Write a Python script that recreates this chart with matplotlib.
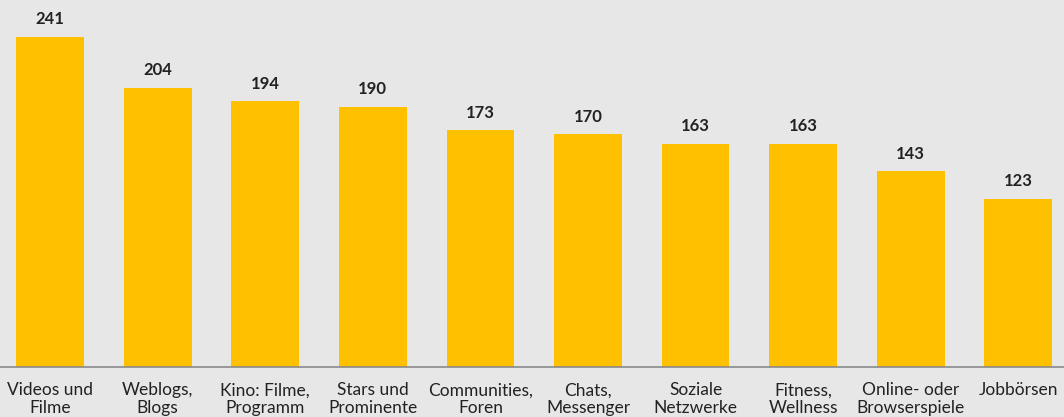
import matplotlib.pyplot as plt

# categories and counts
kategorien = ['Videos und\nFilme', 'Weblogs,\nBlogs', 'Kino: Filme,\nProgramm', 'Stars und\nProminente',
              'Communities,\nForen', 'Chats,\nMessenger', 'Soziale\nNetzwerke', 'Fitness,\nWellness',
              'Online- oder\nBrowserspiele', 'Jobbörsen']
werte = [241, 204, 194, 190, 173, 170, 163, 163, 143, 123]

bg = '#e7e7e7'
plt.rcParams['font.family'] = ['Lato', 'DejaVu Sans']

fig = plt.figure(figsize=(10.64, 4.17), dpi=100, facecolor=bg)
ax = fig.add_axes([0, 50 / 417, 1, 367 / 417], facecolor=bg)

x = range(len(werte))
ax.bar(x, werte, width=0.63, color='#ffc000', zorder=2)
for i, v in zip(x, werte):
    ax.text(i, v + 7, str(v), ha='center', va='bottom', fontsize=12, fontweight='bold', color='#222222')

ax.set_xlim(-0.465, 9.424)
ax.set_ylim(0, 268)
for s in ['top', 'right', 'left']:
    ax.spines[s].set_visible(False)
ax.spines['bottom'].set_color('#8a8a8a')
ax.spines['bottom'].set_linewidth(1.2)
ax.set_yticks([])
ax.set_xticks(list(x))
ax.set_xticklabels(kategorien, fontsize=12.5, color='#222222', linespacing=1.1)
ax.tick_params(axis='x', length=0, pad=11)

fig.savefig('out.png', dpi=100, facecolor=bg)
